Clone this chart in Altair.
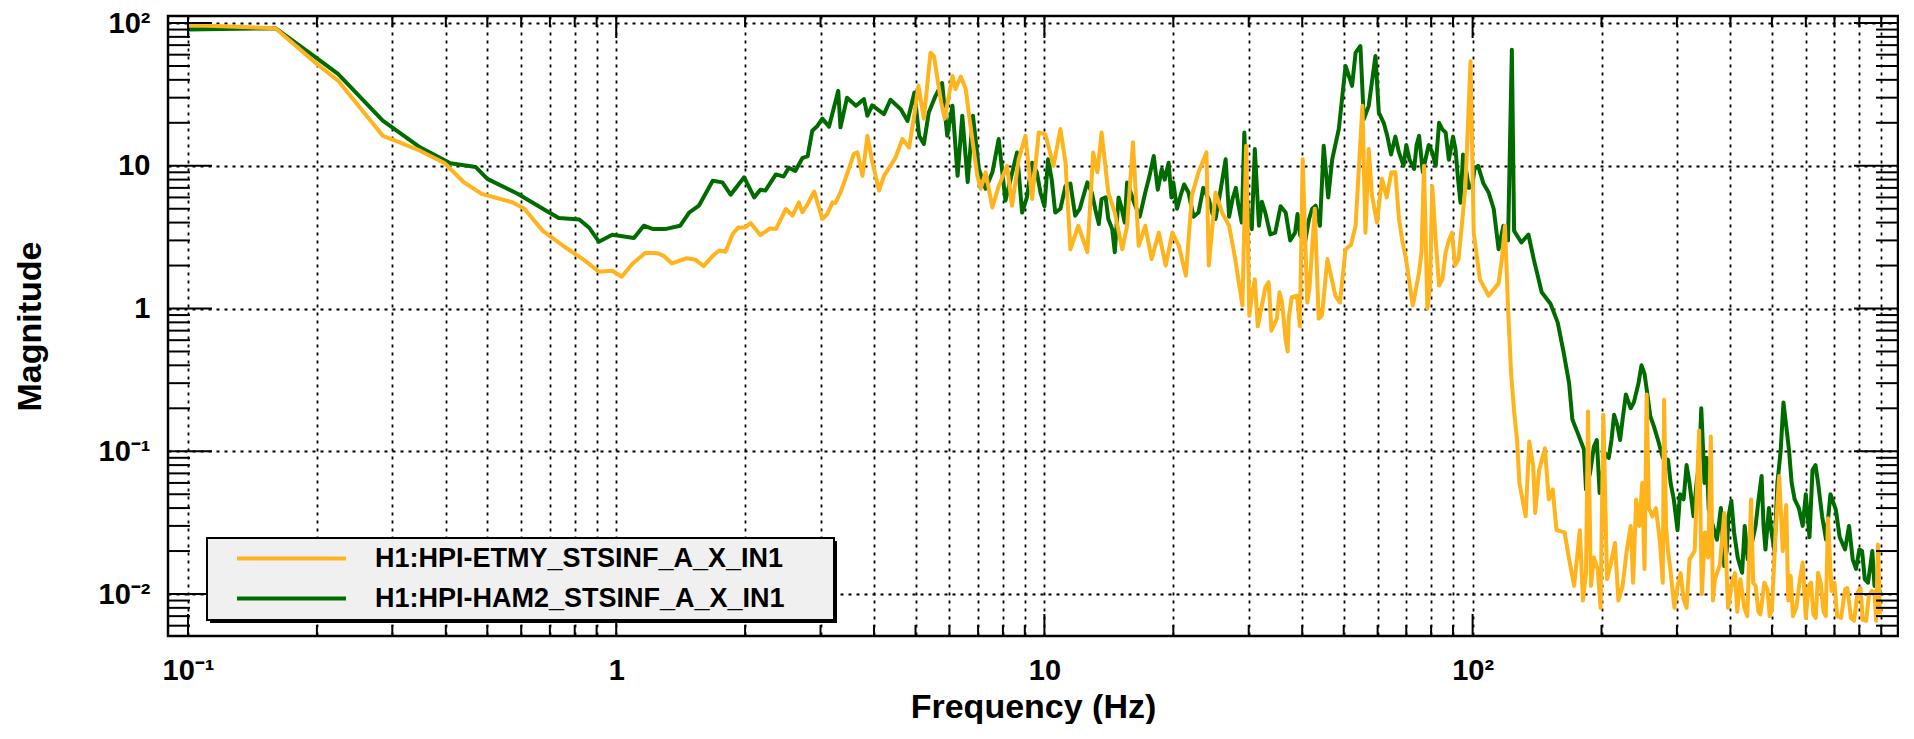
import altair as alt
import pandas as pd

ORANGE_NAME = "H1:HPI-ETMY_STSINF_A_X_IN1"
GREEN_NAME = "H1:HPI-HAM2_STSINF_A_X_IN1"
ORANGE = "#ffb31c"
GREEN = "#006c00"

orange_freq = [0.1, 0.16, 0.198, 0.224, 0.285, 0.31, 0.349, 0.398, 0.44, 0.485, 0.572, 0.61, 0.674, 0.754, 0.848, 0.911, 0.979, 1.03,
               1.09, 1.17, 1.25, 1.29, 1.35, 1.46, 1.53, 1.60, 1.68, 1.74, 1.80, 1.87, 1.93, 2.00, 2.06, 2.17, 2.29, 2.36, 2.49, 2.58,
               2.67, 2.72, 2.80, 2.90, 3.03, 3.11, 3.20, 3.25, 3.34, 3.46, 3.59, 3.66, 3.76, 3.86, 3.96, 4.11, 4.22, 4.37, 4.49, 4.66,
               4.83, 4.97, 5.08, 5.23, 5.42, 5.52, 5.74, 5.85, 6.10, 6.20, 6.38, 6.55, 6.67, 6.97, 7.10, 7.29, 7.56,
               7.82, 8.18, 8.40, 8.71, 9.03, 9.36, 9.70, 10.05, 10.5, 10.9, 11.2, 11.5, 12.0, 12.6, 13.0, 13.3, 13.6, 14.1, 14.6,
               15.2, 15.6, 16.1, 16.6, 17.2, 17.8, 18.5, 19.2, 19.9, 20.6, 21.4, 22.1, 22.9, 23.9, 24.2, 25.1, 26.0, 27.0, 27.9,
               29.0, 29.6, 30.1, 31.0, 32.2, 33.4, 34.9, 35.9, 37.2, 38.9, 40.1, 41.1, 42.8, 43.7, 45.8, 47.8, 50.5, 53.3, 55.3,
               56.2, 57.2, 58.2, 61.4, 64.6, 67.3, 69.9, 72.5, 75.0, 77.0, 78.4, 80.5, 83.5, 86.5, 89.5, 92.7, 96.2, 98.9, 100.6,
               104, 109, 115, 117, 119, 121, 123, 125, 127, 128.6, 133, 135.6, 138.5, 140, 143, 147.5, 150.6, 153.8, 157, 164,
               167.5, 172.6, 178, 184, 186, 189, 196, 202, 206, 215, 224, 234, 241, 249, 255, 258, 263, 274, 280, 283, 289, 301,
               311, 321, 338, 349, 360, 368, 387, 404, 415, 422, 431, 447, 458, 470, 488, 500, 510, 520, 540, 553, 570, 590, 609,
               625, 641, 660, 676, 689, 710, 741, 765, 792, 815, 842, 868, 884, 894]
orange_mag = [97, 92, 53, 39.5, 16.2, 14.7, 12.7, 10.4, 7.7, 6.35, 5.55, 5.0, 3.5, 2.73, 2.15, 1.81, 1.84, 1.67,
              2.05, 2.46, 2.44, 2.34, 2.07, 2.25, 2.2, 1.98, 2.34, 2.55, 2.5, 3.33, 3.7, 3.7, 3.97, 3.27, 3.65, 3.6, 4.98, 4.47,
              5.54, 4.72, 5.4, 6.6, 4.24, 4.59, 5.54, 5.48, 6.5, 8.75, 12.1, 12.4, 8.5, 16.2, 10.8, 6.7, 8.5, 10, 11.4, 15.4,
              13.4, 23, 36.3, 21.4, 62, 58.7, 27.7, 21.4, 42.6, 34.5, 42.2, 34.5, 22.4, 8.5, 6.9, 9, 5.1,
              7.2, 10, 5.25, 11.1, 16.2, 5.85, 17.1, 16.6, 10, 18.1, 10.5, 2.6, 3.8, 2.48, 12.4, 9, 17.1, 6.5, 4.7,
              2.6, 3.8, 14.6, 2.75, 3.8, 2.22, 3.4, 2.0, 3.4, 2.75, 1.7, 6.2, 9, 12.4, 2.0, 6.5, 4.7, 3.8, 2.22,
              1.05, 13.8, 0.89, 1.6, 1.05, 1.53, 0.85, 1.1, 0.85, 1.23, 11.1, 1.1, 5.0, 0.85, 2.22, 1.23, 2.6, 3.8, 26.3,
              3.4, 13.1, 6.2, 8.1, 9, 4.24, 2.22, 1.05, 1.8, 10, 1.0, 7.2, 1.45, 2.48, 3.4, 2.22, 7.2, 54, 3.4,
              1.6, 1.23, 1.5, 2.2, 3.8, 1.0, 0.35, 0.19, 0.12, 0.06, 0.035, 0.117, 0.079, 0.037, 0.074, 0.105, 0.046, 0.054, 0.028, 0.027,
              0.0185, 0.0114, 0.028, 0.0141, 0.19, 0.0114, 0.0149, 0.18, 0.0127, 0.0228, 0.0114, 0.03, 0.046, 0.06, 0.25, 0.04, 0.035, 0.0228, 0.23, 0.03, 0.0157, 0.0114,
              0.0092, 0.0175, 0.14, 0.027, 0.127, 0.0127, 0.037, 0.0123, 0.0075, 0.0127, 0.008, 0.046, 0.0114, 0.0072, 0.0108, 0.0078, 0.027, 0.067, 0.042, 0.0134, 0.008, 0.0166, 0.0114,
              0.0072, 0.0141, 0.0075, 0.034, 0.0105, 0.007, 0.0108, 0.0068, 0.0102, 0.0066, 0.0097, 0.0102, 0.0222, 0.0072]

# extra readings of the dense noisy band (upper / lower edges)
orange_band_freq = [30.6, 31.5, 32.8, 33.9, 35.4, 36.6, 37.0, 37.8, 39.5, 41.6, 44.5, 46.5, 49, 52,
                    59.8, 63, 66, 68.5, 71, 73.5, 76, 79.5, 82, 85, 88, 91, 94.5,
                    181, 192, 199, 210, 219, 229, 237, 245, 252, 268, 278, 286, 296, 306, 316, 330, 343, 355, 364, 378,
                    395, 410, 438, 452, 465, 480, 494, 530, 546, 560, 580, 600, 617, 633, 650, 668, 700, 725, 750, 778,
                    805, 830, 855, 876, 890]
orange_band_mag = [1.3, 0.75, 1.4, 0.7, 1.3, 0.6, 0.5, 1.2, 0.75, 1.4, 0.9, 1.8, 1.1, 2.8,
                   4.0, 6.0, 9.0, 3.0, 1.6, 1.3, 2.5, 1.4, 3.0, 1.6, 3.0, 2.0, 4.0,
                   0.009, 0.018, 0.008, 0.016, 0.009, 0.02, 0.012, 0.03, 0.015, 0.04, 0.012, 0.02, 0.008, 0.014, 0.008, 0.02, 0.01, 0.018, 0.009, 0.016,
                   0.008, 0.014, 0.007, 0.012, 0.0075, 0.012, 0.007, 0.02, 0.009, 0.007, 0.012, 0.0068, 0.012, 0.0068, 0.012, 0.007, 0.012, 0.0068, 0.011, 0.0065,
                   0.011, 0.0065, 0.0105, 0.0065, 0.012]

green_freq = [0.1, 0.16, 0.198, 0.224, 0.285, 0.31, 0.349, 0.41, 0.47, 0.50, 0.59, 0.674, 0.734, 0.82, 0.866, 0.911, 0.979,
              1.10, 1.16, 1.22, 1.30, 1.41, 1.48, 1.56, 1.68, 1.77, 1.85, 1.99, 2.10, 2.17, 2.23, 2.36, 2.46, 2.53, 2.62, 2.72,
              2.80, 2.87, 2.95, 3.03, 3.14, 3.30, 3.34, 3.46, 3.63, 3.79, 3.86, 3.96, 4.22, 4.37, 4.62, 4.79, 4.97, 5.10, 5.23,
              5.37, 5.57, 5.77, 5.93, 6.10, 6.27, 6.43, 6.62, 6.81, 7.03, 7.29, 7.56,
              7.82, 8.11, 8.63, 8.87, 9.36, 9.79, 10.2, 10.6, 11.2, 11.8, 12.4, 12.6, 13.2, 13.6, 14.1, 14.6, 15.1, 15.6, 16.3,
              17.2, 18.0, 18.8, 19.5, 20.0, 20.8, 21.7, 22.9, 24.2, 25.1, 26.5, 27.5, 28.4, 29.3, 30.0, 31.0, 31.7, 32.8, 34.6,
              36.6, 38.5, 39.6, 41.5, 43.0, 44.9, 47.0, 48.7, 50.5, 52.3, 53.3, 54.7, 55.7, 57.2, 59.3, 60.4, 63.2, 67.3, 71.2,
              75.0, 77.6, 80.5, 83.5, 86.5, 91.2, 93.7, 96.2, 99.8, 103, 109, 115, 118, 121, 123.5, 125, 130, 135, 139, 145, 152,
              158, 163, 168, 171, 176, 182, 184, 192, 198, 204, 211, 218, 224, 234, 244, 252, 260, 271, 286, 295, 301, 311, 321,
              328, 334, 342, 348, 356, 372, 387, 396, 408, 426, 439, 458, 473, 483, 499, 515, 532, 548, 565, 590, 622, 641, 669,
              705, 741, 772, 800, 824, 849, 868, 894]
green_mag = [90, 92, 58, 44, 20.7, 17.3, 13.4, 10.4, 9.8, 8.1, 6.35, 5.0, 4.3, 4.2, 3.66, 2.94, 3.29,
             3.12, 3.80, 3.6, 3.6, 3.8, 4.7, 5.25, 7.85, 7.65, 6.27, 8.3, 6.0, 6.8, 6.7, 8.7, 8.4, 9.7, 9.2, 11.3,
             11.7, 17.6, 19, 21.4, 18.8, 33.5, 18.6, 30, 26.3, 29.3, 22.4, 26.5, 23, 29, 24.9, 20.6, 32.6, 16.2, 14.2,
             23.6, 30.9, 38, 16.2, 26.3, 8.5, 22.4, 7.7, 22.4, 9.5, 6.9, 9.0,
             15.4, 5.7, 12.4, 4.7, 10.5, 6.5, 11.1, 4.7, 7.2, 4.47, 6.5, 7.65, 4.7, 5.85, 4.24, 2.48, 5.25, 7.65, 5.25,
             6.5, 11.7, 9.5, 10.5, 7.65, 6.2, 6.5, 4.7, 5.85, 4.24, 11.1, 5.85, 5.25, 17.1, 4.24, 13.1, 3.8, 4.7, 3.4,
             4.7, 3.4, 3.24, 4.24, 5.25, 13.8, 11.1, 18.1, 50, 36.3, 62, 69, 21.2, 26.3, 58.7, 23.6, 16.2, 12.4, 11.1,
             16.2, 11.1, 12.4, 20, 17.1, 13.1, 5.5, 10, 7.2, 10, 6.5, 2.6, 3.8, 3.0, 65, 3.5, 2.9, 3.3, 2.2, 1.3, 1.08,
             0.8, 0.5, 0.3, 0.167, 0.134, 0.103, 0.054, 0.108, 0.051, 0.097, 0.12, 0.15, 0.167, 0.2, 0.3, 0.35, 0.176, 0.12, 0.087, 0.046, 0.028, 0.046, 0.06,
             0.035, 0.063, 0.2, 0.06, 0.039, 0.024, 0.0157, 0.035, 0.027, 0.0141, 0.0175, 0.03, 0.067, 0.0205, 0.027, 0.06, 0.22, 0.103, 0.046, 0.03, 0.074, 0.06, 0.024,
             0.039, 0.0205, 0.0175, 0.0205, 0.0127, 0.0157, 0.0114, 0.0102]

green_band_freq = [9.1, 9.6, 10.0, 10.4, 10.9, 11.5, 12.1, 12.9, 13.4, 13.9, 14.4, 14.9, 15.4, 15.9, 16.7, 17.6, 18.4, 19.1, 19.8,
                   20.4, 21.2, 22.3, 23.5, 24.7, 25.8, 27.0, 28.0, 28.9, 29.7, 30.5, 32.2, 33.7, 35.6, 37.5, 39.0, 40.6, 42.2, 44.0, 46.0,
                   62, 64.5, 66, 69, 70, 73, 74, 76.5, 79, 82, 85, 88, 90, 92.5, 95, 98, 101, 106, 112,
                   188, 195, 201, 208, 214, 221, 228, 238, 248, 256, 265, 278, 290, 305, 316, 338, 352, 364, 380, 392, 402, 416,
                   432, 448, 465, 478, 492, 507, 524, 540, 556, 578, 600, 612, 632, 655, 685, 720, 757, 786, 812, 838, 858, 882]
green_band_mag = [6.0, 9.0, 5.2, 8.0, 5.0, 7.5, 5.0, 6.5, 3.9, 6.0, 3.6, 6.0, 4.0, 6.5, 4.4, 8.5, 6.8, 8.0, 6.0,
                  5.0, 7.4, 4.4, 7.0, 4.6, 6.8, 4.4, 7.0, 4.0, 6.0, 3.6, 5.6, 3.3, 5.2, 3.0, 4.6, 2.9, 5.0, 3.8, 6.0,
                  20, 12, 16, 10, 14, 9.5, 14, 9, 14, 10, 18, 11, 16, 8, 12, 7, 9.5, 7.5, 5,
                  0.07, 0.12, 0.07, 0.09, 0.18, 0.12, 0.25, 0.22, 0.4, 0.25, 0.15, 0.09, 0.06, 0.05, 0.08, 0.08, 0.09, 0.03, 0.04, 0.02, 0.045, 0.018,
                  0.03, 0.022, 0.045, 0.03, 0.04, 0.02, 0.1, 0.15, 0.06, 0.04, 0.05, 0.025, 0.08, 0.035, 0.05, 0.025, 0.03, 0.015, 0.02, 0.012, 0.02, 0.012]

x_major_ticks = [0.1, 1, 10, 100]
x_major_labels = ["10\u207b\u00b9", "1", "10", "10\u00b2"]
x_minor_ticks = [m * d for d in (0.1, 1, 10, 100) for m in range(2, 10)]
y_major_ticks = [0.01, 0.1, 1, 10, 100]
y_major_labels = ["10\u207b\u00b2", "10\u207b\u00b9", "1", "10", "10\u00b2"]
y_minor_ticks = [m * d for d in (0.001, 0.01, 0.1, 1, 10) for m in range(2, 10) if m * d > 0.0051]

W, H = 1730, 620
FONT = "Liberation Sans"

def label_expr(vals, labels):
    parts = [f"abs(datum.value - {v}) < {v * 1e-6} ? '{l}'" for v, l in zip(vals, labels)]
    return " : ".join(parts) + " : ''"

xscale = alt.Scale(type="log", domain=[0.0898, 985], nice=False)
yscale = alt.Scale(type="log", domain=[0.00508, 112], nice=False)

xaxis = alt.Axis(title="Frequency (Hz)", values=x_major_ticks + x_minor_ticks,
                 labelExpr=label_expr(x_major_ticks, x_major_labels),
                 labelPadding=20, titlePadding=5, labelOverlap=False, labelFlush=False)
yaxis = alt.Axis(title="Magnitude", values=y_major_ticks,
                 labelExpr=label_expr(y_major_ticks, y_major_labels),
                 labelPadding=18, titlePadding=51, labelOverlap=False, labelFlush=False)

color = alt.Color("series:N",
                  scale=alt.Scale(domain=[ORANGE_NAME, GREEN_NAME], range=[ORANGE, GREEN]),
                  legend=alt.Legend(title=None, orient="none", legendX=39, legendY=522, padding=7,
                                    symbolType="M-5,0H5", symbolSize=475, symbolStrokeWidth=4,
                                    symbolOffset=64, labelOffset=70, rowPadding=12,
                                    labelFont=FONT, labelFontSize=27, labelFontWeight="bold",
                                    labelColor="black", labelLimit=1000))

def series_df(freqs, mags, bf, bm, name):
    df = pd.concat([pd.DataFrame({"freq": freqs, "mag": mags}),
                    pd.DataFrame({"freq": bf, "mag": bm})], ignore_index=True)
    df = df.sort_values("freq", kind="stable").reset_index(drop=True)
    df["series"] = name
    return df

orange_df = series_df(orange_freq, orange_mag, orange_band_freq, orange_band_mag, ORANGE_NAME)
green_df = series_df(green_freq, green_mag, green_band_freq, green_band_mag, GREEN_NAME)

one = pd.DataFrame({"k": [0]})
shadow = alt.Chart(one).mark_rect(color="black").encode(
    x=alt.value(42), x2=alt.value(669), y=alt.value(525), y2=alt.value(607))
box = alt.Chart(one).mark_rect(fill="#f0f0f0", stroke="black", strokeWidth=2).encode(
    x=alt.value(39), x2=alt.value(666), y=alt.value(522), y2=alt.value(604))

def line(df):
    return alt.Chart(df).mark_line(strokeWidth=4, clip=True, strokeJoin="round").encode(
        x=alt.X("freq:Q", scale=xscale, axis=xaxis),
        y=alt.Y("mag:Q", scale=yscale, axis=yaxis),
        order=alt.Order("freq:Q"),
        color=color)

def xticks(vals, length):
    df = pd.DataFrame({"freq": vals})
    bottom = alt.Chart(df).mark_rule(color="black", strokeWidth=2).encode(
        x=alt.X("freq:Q", scale=xscale, axis=xaxis), y=alt.value(H - length), y2=alt.value(H))
    top = alt.Chart(df).mark_rule(color="black", strokeWidth=2).encode(
        x=alt.X("freq:Q", scale=xscale, axis=xaxis), y=alt.value(0), y2=alt.value(length))
    return [bottom, top]

def yticks(vals, length):
    df = pd.DataFrame({"mag": vals})
    left = alt.Chart(df).mark_rule(color="black", strokeWidth=2).encode(
        y=alt.Y("mag:Q", scale=yscale, axis=yaxis), x=alt.value(0), x2=alt.value(length))
    right = alt.Chart(df).mark_rule(color="black", strokeWidth=2).encode(
        y=alt.Y("mag:Q", scale=yscale, axis=yaxis), x=alt.value(W - length), x2=alt.value(W))
    return [left, right]

layers = [line(green_df), line(orange_df)]
layers += xticks(x_major_ticks, 22) + xticks(x_minor_ticks, 11)
layers += yticks(y_major_ticks, 44) + yticks(y_minor_ticks, 22)
layers += [shadow, box]

chart = alt.layer(*layers).properties(
    width=W, height=H, padding={"left": 5, "top": 1, "right": 0, "bottom": 0}, background="white"
).configure_view(
    stroke="black", strokeWidth=2.5
).configure_axis(
    domain=False, ticks=False, tickSize=0, grid=True, gridColor="black", gridDash=[3, 5], gridWidth=1.8,
    gridOpacity=1, labelFont=FONT, labelFontSize=29, labelFontWeight="bold", labelColor="black",
    titleFont=FONT, titleFontSize=34, titleFontWeight="bold", titleColor="black"
)

chart.save("out.html", embed_options={"renderer": "svg", "actions": False})
